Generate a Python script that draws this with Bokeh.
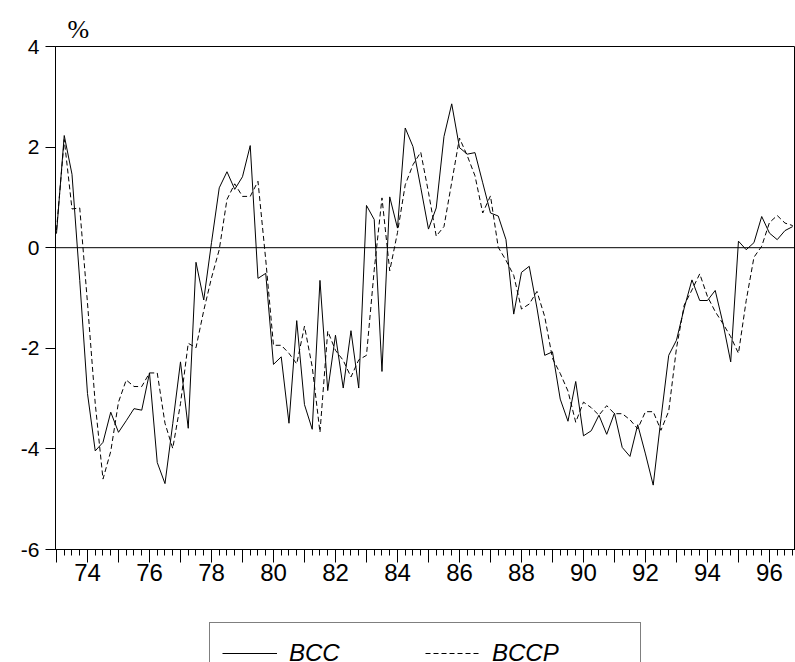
from bokeh.plotting import figure
from bokeh.layouts import column
from bokeh.models import FixedTicker, Span, Legend, LegendItem, Range1d
from bokeh.embed import file_html
from bokeh.resources import INLINE

# quarterly data 1973Q1 .. 1996Q4
start_year = 1973
bcc = [0.28, 2.23, 1.46, -0.65, -2.9, -4.04, -3.87, -3.27, -3.67, -3.44,
       -3.2, -3.23, -2.49, -4.27, -4.69, -3.5, -2.27, -3.59, -0.29, -1.04,
       0.1, 1.19, 1.51, 1.16, 1.41, 2.03, -0.61, -0.51, -2.32, -2.17,
       -3.49, -1.45, -3.12, -3.61, -0.65, -2.84, -1.74, -2.79, -1.65, -2.79,
       0.84, 0.56, -2.46, 1.01, 0.39, 2.38, 2.01, 1.2, 0.37, 0.79,
       2.21, 2.86, 1.99, 1.86, 1.89, 1.29, 0.69, 0.63, 0.16, -1.32,
       -0.49, -0.37, -1.2, -2.14, -2.07, -3.01, -3.45, -2.66, -3.74, -3.64,
       -3.33, -3.71, -3.29, -3.97, -4.15, -3.52, -4.1, -4.72, -3.4, -2.14,
       -1.84, -1.2, -0.64, -1.05, -1.05, -0.85, -1.5, -2.27, 0.13, -0.04,
       0.1, 0.62, 0.29, 0.16, 0.34, 0.42]
bccp = [0.35, 2.15, 0.77, 0.79, -1.1, -3.1, -4.6, -4.05, -3.07, -2.63,
        -2.76, -2.76, -2.49, -2.49, -3.49, -3.99, -3.1, -1.9, -1.99, -1.25,
        -0.6, -0.04, 0.96, 1.27, 1.02, 1.02, 1.32, -0.24, -1.94, -1.94,
        -2.1, -2.31, -1.56, -2.37, -3.67, -1.66, -2.04, -2.24, -2.57, -2.23,
        -2.14, -0.44, 0.99, -0.46, 0.3, 1.25, 1.65, 1.9, 1.1, 0.23,
        0.42, 1.3, 2.18, 1.83, 1.43, 0.69, 1.03, 0.01, -0.25, -0.55,
        -1.22, -1.12, -0.87, -1.37, -2.2, -2.5, -2.85, -3.47, -3.07, -3.18,
        -3.33, -3.14, -3.3, -3.3, -3.42, -3.6, -3.26, -3.26, -3.63, -3.25,
        -2.0, -1.14, -0.84, -0.52, -0.97, -1.27, -1.51, -1.77, -2.1, -1.05,
        -0.19, 0.03, 0.5, 0.64, 0.49, 0.44]
t = [start_year + i / 4 for i in range(len(bcc))]

y_ticks = [-6, -4, -2, 0, 2, 4]
y_labels = {v: str(v) for v in y_ticks}
year_ticks = list(range(1973, 1997))
label_years = list(range(1974, 1997, 2))
x_labels = {y: (f"{y % 100:02d}" if y in label_years else "") for y in year_ticks}
series_names = ["BCC", "BCCP"]

p = figure(width=795, height=618, output_backend="svg", toolbar_location=None,
           x_range=Range1d(1972.968, 1996.84), y_range=Range1d(-6, 4),
           min_border_left=55, min_border_right=0, min_border_top=46,
           min_border_bottom=69)
p.outline_line_color = "black"
p.outline_line_width = 1
p.grid.visible = False
p.background_fill_color = "white"
p.border_fill_color = "white"

p.title.text = "%"
p.title.text_font = "Liberation Serif"
p.title.text_font_style = "normal"
p.title.text_font_size = "26px"
p.title.text_color = "black"
p.title.align = "left"
p.title.offset = 12
p.title.standoff = 5

p.line(t, bcc, line_color="black", line_width=1)
p.line(t, bccp, line_color="black", line_width=1, line_dash="5 3")

p.add_layout(Span(location=0, dimension="width", line_color="black", line_width=1))

ya = p.yaxis[0]
ya.ticker = FixedTicker(ticks=y_ticks)
ya.major_label_overrides = y_labels
ya.major_tick_out = 10
ya.major_tick_in = 0
ya.minor_tick_out = 0
ya.minor_tick_in = 0
ya.axis_line_color = "black"
ya.major_tick_line_color = "black"
ya.major_label_text_font = "Liberation Sans"
ya.major_label_text_font_size = "21px"
ya.major_label_text_color = "black"
ya.major_label_standoff = 6

xa = p.xaxis[0]
xa.ticker = FixedTicker(ticks=year_ticks, minor_ticks=t)
xa.major_label_overrides = x_labels
xa.major_tick_out = 13
xa.major_tick_in = 0
xa.minor_tick_out = 6
xa.minor_tick_in = 0
xa.axis_line_color = "black"
xa.major_tick_line_color = "black"
xa.minor_tick_line_color = "black"
xa.major_label_text_font = "Liberation Sans"
xa.major_label_text_font_size = "24px"
xa.major_label_text_color = "black"
xa.major_label_standoff = 1

# legend strip below the chart (its lines lie outside its own ranges, so only the key shows)
pl = figure(width=795, height=44, output_backend="svg", toolbar_location=None,
            x_range=Range1d(0, 1), y_range=Range1d(100, 101),
            x_axis_location=None, y_axis_location=None,
            min_border_left=0, min_border_right=0, min_border_top=0,
            min_border_bottom=0)
pl.grid.visible = False
pl.outline_line_color = None
pl.background_fill_color = "white"
pl.border_fill_color = "white"
g1 = pl.line(t, bcc, line_color="black", line_width=1)
g2 = pl.line(t, bccp, line_color="black", line_width=1, line_dash="5 3")

legend = Legend(items=[LegendItem(label=series_names[0], renderers=[g1]),
                       LegendItem(label=series_names[1], renderers=[g2])],
                orientation="horizontal", location=(154, -22), padding=12,
                spacing=0, glyph_width=55, glyph_height=36, label_width=136,
                label_height=36, label_standoff=12, margin=0,
                border_line_color="black", border_line_width=1,
                background_fill_color="white", background_fill_alpha=1,
                label_text_font_size="24px", label_text_font_style="italic",
                label_text_font="Liberation Sans", label_text_color="black")
pl.add_layout(legend)

open("out.html", "w").write(file_html(column(p, pl), INLINE))
